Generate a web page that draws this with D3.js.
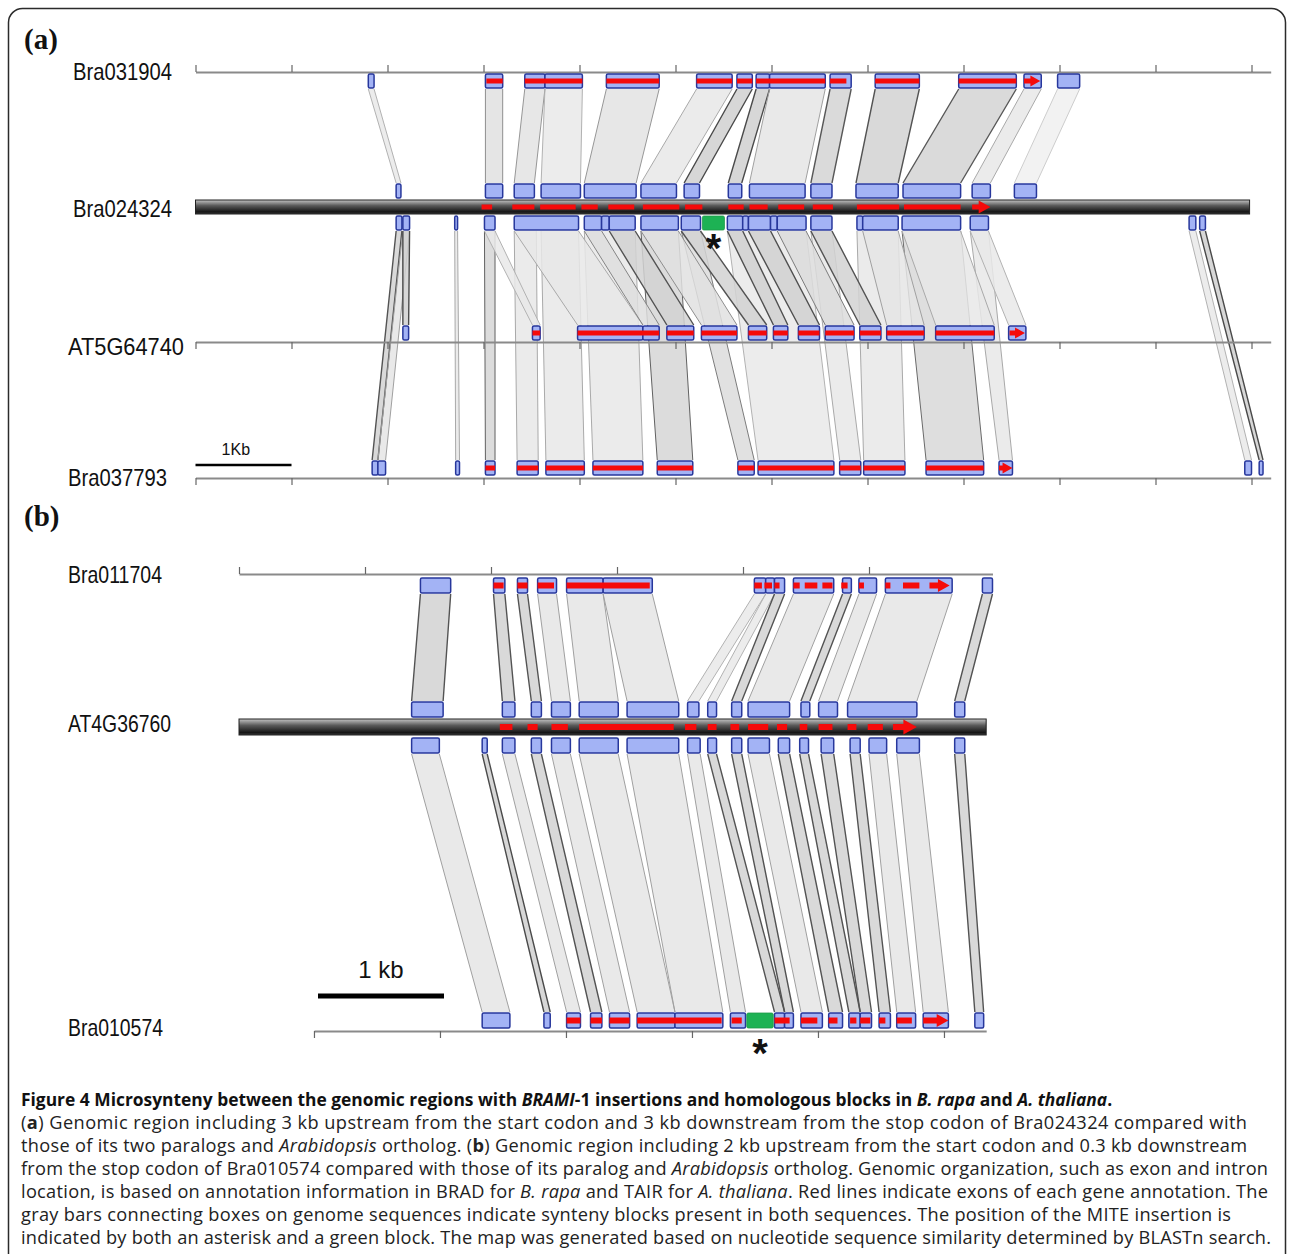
<!DOCTYPE html>
<html>
<head>
<meta charset="utf-8">
<script src="https://cdn.jsdelivr.net/npm/d3@7"></script>
<style>
  body { margin: 0; background: #fff; }
  svg { display: block; }
</style>
</head>
<body>
<svg id="chart"></svg>
<script>
// ---------- panel (a) data, positions in kb ----------
const tracksA = ['Bra031904', 'Bra024324', 'AT5G64740', 'Bra037793'];
const axisA = [0, 11.2];
const rodA = [0, 10.98];

const blocksBra031904 = [[1.80,1.86],[3.02,3.20],[3.43,3.64],[3.64,4.03],[4.28,4.83],[5.22,5.59],[5.64,5.80],
  [5.84,5.98],[5.98,6.56],[6.61,6.83],[7.08,7.54],[7.95,8.55],[8.63,8.81],[8.98,9.21]];
const exonsBra031904 = [[3.03,3.20],[3.43,4.03],[4.28,4.83],[5.22,5.59],[5.64,5.80],[5.84,6.56],[6.61,6.78],
  [7.08,7.54],[7.95,8.55],[8.63,8.80]];

const blocksTopBra024324 = [[2.09,2.14],[3.02,3.20],[3.32,3.53],[3.60,4.01],[4.05,4.59],[4.64,5.01],[5.09,5.25],
  [5.55,5.69],[5.77,6.35],[6.41,6.63],[6.88,7.32],[7.37,7.97],[8.09,8.28],[8.53,8.76]];
const blocksBotBra024324 = [[2.09,2.15],[2.16,2.23],[2.70,2.73],[3.01,3.12],[3.32,3.99],[4.05,4.23],[4.23,4.31],
  [4.31,4.58],[4.64,5.03],[5.06,5.26],[5.54,5.70],[5.70,5.76],[5.76,5.99],[5.99,6.06],[6.06,6.36],[6.41,6.63],
  [6.89,6.95],[6.95,7.32],[7.36,7.97],[8.07,8.26],[10.35,10.42],[10.46,10.52]];
const exonsBra024324 = [[2.98,3.09],[3.30,3.53],[3.59,3.96],[4.02,4.19],[4.30,4.57],[4.66,5.04],[5.10,5.28],
  [5.55,5.71],[5.77,5.96],[6.07,6.34],[6.43,6.64],[6.89,7.33],[7.38,7.97],[8.09,8.28]];
const miteBra024324 = [5.28, 5.51];

const blocksAT5G64740 = [[2.16,2.22],[3.51,3.59],[3.98,4.66],[4.66,4.83],[4.91,5.19],[5.27,5.64],[5.76,5.95],
  [6.02,6.17],[6.28,6.50],[6.56,6.86],[6.92,7.14],[7.20,7.59],[7.71,8.32],[8.47,8.65]];
const exonsAT5G64740 = [[3.51,3.59],[3.98,4.83],[4.91,5.19],[5.27,5.64],[5.76,5.95],[6.02,6.17],[6.28,6.50],
  [6.56,6.86],[6.92,7.14],[7.20,7.59],[7.71,8.32],[8.48,8.64]];

const blocksBra037793 = [[1.84,1.90],[1.90,1.98],[2.71,2.75],[3.02,3.12],[3.35,3.57],[3.65,4.05],[4.14,4.66],
  [4.81,5.18],[5.65,5.82],[5.86,6.65],[6.71,6.93],[6.96,7.39],[7.61,8.21],[8.37,8.51],[10.93,11.00],[11.08,11.12]];
const exonsBra037793 = [[3.02,3.12],[3.35,3.57],[3.65,4.05],[4.14,4.66],[4.81,5.18],[5.65,5.82],[5.86,6.65],
  [6.71,6.93],[6.96,7.39],[7.61,8.21],[8.37,8.51]];

// synteny links: [fromStart, fromEnd, toStart, toEnd, identity]
const linksA01 = [[1.80,1.86,2.09,2.14,0.72],[3.02,3.20,3.02,3.20,0.80],[3.43,3.64,3.32,3.53,0.78],
  [3.64,4.03,3.60,4.01,0.72],[4.28,4.83,4.05,4.59,0.78],[5.22,5.59,4.64,5.01,0.74],[5.64,5.80,5.09,5.25,0.95],
  [5.84,5.98,5.55,5.69,0.95],[5.98,6.56,5.77,6.35,0.76],[6.61,6.83,6.41,6.63,0.92],[7.08,7.54,6.88,7.32,0.93],
  [7.95,8.55,7.37,7.97,0.92],[8.63,8.81,8.09,8.28,0.74],[8.98,9.21,8.53,8.76,0.66]];
const linksA12 = [[2.16,2.23,2.16,2.22,0.95],[3.01,3.12,3.51,3.59,0.72],[3.32,3.99,3.98,4.66,0.74],
  [4.05,4.23,4.66,4.83,0.82],[4.31,4.58,4.91,5.19,0.93],[4.64,5.03,5.27,5.64,0.80],[5.06,5.26,5.76,5.95,0.93],
  [5.54,5.70,6.02,6.17,0.94],[5.76,5.99,6.28,6.50,0.94],[6.06,6.36,6.56,6.86,0.84],[6.41,6.63,6.92,7.14,0.93],
  [6.95,7.32,7.20,7.59,0.76],[7.36,7.97,7.71,8.32,0.74],[8.07,8.26,8.47,8.65,0.72]];
const linksA13 = [[2.09,2.15,1.84,1.90,0.93],[2.16,2.23,1.90,1.98,0.76],[2.70,2.73,2.71,2.75,0.74],
  [3.01,3.12,3.02,3.12,0.90],[3.32,3.55,3.35,3.57,0.74],[3.60,3.99,3.65,4.05,0.74],[4.05,4.58,4.14,4.66,0.74],
  [4.64,5.03,4.81,5.18,0.90],[5.06,5.26,5.65,5.82,0.84],[5.54,6.36,5.86,6.65,0.72],[6.41,6.63,6.71,6.93,0.74],
  [6.89,7.32,6.96,7.39,0.74],[7.36,7.97,7.61,8.21,0.88],[8.07,8.26,8.37,8.51,0.74],[10.35,10.42,10.93,11.00,0.72],
  [10.46,10.52,11.08,11.12,0.96]];

// ---------- panel (b) data, positions in kb ----------
const tracksB = ['Bra011704', 'AT4G36760', 'Bra010574'];
const axisBra011704 = [0, 5.98];
const axisBra010574 = [0.595, 5.93];
const rodB = [0, 5.93];

const blocksBra011704 = [[1.44,1.68],[2.02,2.11],[2.21,2.29],[2.37,2.52],[2.60,2.89],[2.89,3.28],[4.09,4.18],
  [4.18,4.25],[4.25,4.33],[4.40,4.72],[4.79,4.86],[4.92,5.06],[5.13,5.66],[5.90,5.98]];
const exonsBra011704 = [[2.02,2.10],[2.21,2.29],[2.37,2.50],[2.60,3.26],[4.09,4.15],[4.17,4.23],[4.25,4.29],
  [4.40,4.45],[4.49,4.59],[4.63,4.71],[4.78,4.83],[4.92,4.96],[5.13,5.17],[5.27,5.40],[5.48,5.64]];

const blocksTopAT4G36760 = [[1.37,1.62],[2.09,2.19],[2.32,2.40],[2.48,2.63],[2.70,3.01],[3.08,3.49],[3.56,3.65],
  [3.72,3.79],[3.91,3.99],[4.04,4.37],[4.46,4.53],[4.60,4.75],[4.83,5.38],[5.68,5.76]];
const blocksBotAT4G36760 = [[1.37,1.59],[1.93,1.97],[2.09,2.19],[2.32,2.40],[2.48,2.63],[2.70,3.01],[3.08,3.49],
  [3.56,3.66],[3.72,3.79],[3.91,3.99],[4.04,4.21],[4.28,4.37],[4.45,4.52],[4.62,4.72],[4.85,4.93],[5.00,5.14],
  [5.22,5.40],[5.68,5.76]];
const exonsAT4G36760 = [[2.07,2.17],[2.29,2.37],[2.48,2.61],[2.70,3.45],[3.54,3.63],[3.72,3.79],[3.90,3.97],
  [4.04,4.20],[4.27,4.35],[4.45,4.51],[4.60,4.71],[4.83,4.90],[4.99,5.11],[5.19,5.38]];

const blocksBra010574 = [[1.93,2.15],[2.42,2.47],[2.60,2.71],[2.79,2.88],[2.94,3.10],[3.16,3.46],[3.46,3.84],
  [3.90,4.02],[4.25,4.33],[4.33,4.40],[4.46,4.63],[4.68,4.79],[4.84,4.93],[4.93,5.02],[5.08,5.17],[5.22,5.37],
  [5.43,5.63],[5.84,5.91]];
const exonsBra010574 = [[2.60,2.71],[2.79,2.88],[2.94,3.10],[3.16,3.83],[3.91,3.99],[4.25,4.37],[4.46,4.59],
  [4.68,4.75],[4.85,4.90],[4.93,5.01],[5.08,5.13],[5.22,5.34],[5.43,5.63]];
const miteBra010574 = [4.03, 4.24];

const linksB01 = [[1.44,1.68,1.37,1.62,0.93],[2.02,2.11,2.09,2.19,0.93],[2.21,2.29,2.32,2.40,0.93],
  [2.37,2.52,2.48,2.63,0.76],[2.60,2.89,2.70,3.01,0.76],[2.89,3.28,3.08,3.49,0.76],[4.09,4.18,3.56,3.65,0.72],
  [4.18,4.25,3.72,3.79,0.72],[4.25,4.33,3.91,3.99,0.93],[4.40,4.72,4.04,4.37,0.76],[4.79,4.86,4.46,4.53,0.93],
  [4.92,5.06,4.60,4.75,0.76],[5.13,5.66,4.83,5.38,0.76],[5.90,5.98,5.68,5.76,0.93]];
const linksB12 = [[1.37,1.59,1.93,2.15,0.76],[1.93,1.97,2.42,2.47,0.95],[2.09,2.19,2.60,2.71,0.76],
  [2.32,2.40,2.79,2.88,0.93],[2.48,2.63,2.94,3.10,0.76],[2.70,3.01,3.16,3.46,0.76],[3.08,3.49,3.46,3.84,0.76],
  [3.56,3.66,3.90,4.02,0.76],[3.72,3.79,4.25,4.33,0.93],[3.91,3.99,4.33,4.40,0.93],[4.04,4.21,4.46,4.63,0.76],
  [4.28,4.37,4.68,4.79,0.93],[4.45,4.52,4.84,4.93,0.93],[4.62,4.72,4.93,5.02,0.93],[4.85,4.93,5.08,5.17,0.93],
  [5.00,5.14,5.22,5.37,0.76],[5.22,5.40,5.43,5.63,0.76],[5.68,5.76,5.84,5.91,0.93]];

// ---------- drawing ----------
const width = 1290, height = 1254;
const svg = d3.select('#chart').attr('width', width).attr('height', height);

const defs = svg.append('defs');
const grad = defs.append('linearGradient').attr('id', 'rod')
  .attr('x1', 0).attr('y1', 0).attr('x2', 0).attr('y2', 1);
grad.append('stop').attr('offset', '0%').attr('stop-color', '#c4c4c4');
grad.append('stop').attr('offset', '40%').attr('stop-color', '#5a5a5a');
grad.append('stop').attr('offset', '85%').attr('stop-color', '#151515');
grad.append('stop').attr('offset', '100%').attr('stop-color', '#3a3a3a');

// rounded frame
svg.append('rect').attr('x', 8.5).attr('y', 8.5).attr('width', 1277).attr('height', 1300)
  .attr('rx', 14).attr('fill', 'none').attr('stroke', '#2b2b2b').attr('stroke-width', 1.5);

const linkFill = d3.scaleLinear().domain([0.65, 0.95]).range(['#f1f1f1', '#d0d0d0']).clamp(true);
const linkEdge = d3.scaleLinear().domain([0.65, 0.95]).range(['#d2d2d2', '#4a4a4a']).clamp(true);

function drawLinks(g, x, links, yTop, yBot) {
  g.append('g').selectAll('path').data(links).join('path')
    .attr('d', d => `M${x(d[0])},${yTop}L${x(d[1])},${yTop}L${x(d[3])},${yBot}L${x(d[2])},${yBot}Z`)
    .attr('fill', d => linkFill(d[4]))
    .attr('fill-opacity', 0.85);
  g.append('g').selectAll('path').data(links).join('path')
    .attr('d', d => `M${x(d[0])},${yTop}L${x(d[2])},${yBot}M${x(d[1])},${yTop}L${x(d[3])},${yBot}`)
    .attr('fill', 'none')
    .attr('stroke', d => linkEdge(d[4]))
    .attr('stroke-width', d => d[4] > 0.9 ? 1.4 : 1);
}

function drawAxis(g, x, range, y, up) {
  const sub = x.copy().domain(range).range([x(range[0]), x(range[1])]);
  const ticks = d3.range(range[0], range[1] + 1e-6, 1);
  const axis = (up ? d3.axisTop(sub) : d3.axisBottom(sub))
    .tickValues(ticks).tickSize(7).tickSizeOuter(0).tickFormat('');
  const a = g.append('g').attr('transform', `translate(0,${y})`).call(axis);
  a.select('.domain').attr('stroke', '#8a8a8a').attr('stroke-width', 2);
  a.selectAll('.tick line').attr('stroke', '#666').attr('stroke-width', 1.2);
}

function drawRod(g, x, range, y, h) {
  g.append('rect').attr('x', x(range[0])).attr('y', y)
    .attr('width', x(range[1]) - x(range[0])).attr('height', h)
    .attr('fill', 'url(#rod)').attr('stroke', '#222').attr('stroke-width', 1);
}

function drawBlocks(g, x, blocks, y, h, fill) {
  g.append('g').selectAll('rect').data(blocks).join('rect')
    .attr('x', d => x(d[0])).attr('y', y)
    .attr('width', d => Math.max(2, x(d[1]) - x(d[0]))).attr('height', h)
    .attr('rx', 1.5)
    .attr('fill', fill || '#a3b3f5')
    .attr('stroke', fill ? '#1f9a4a' : '#27379c')
    .attr('stroke-width', fill ? 0.8 : 1.5);
}

// exons as red bars; the last exon ends with an arrow head
function drawExons(g, x, exons, yMid, th, head) {
  const last = exons.length - 1;
  g.append('g').selectAll('path').data(exons).join('path')
    .attr('d', (d, i) => {
      const x0 = x(d[0]), x1 = x(d[1]);
      if (i < last) return `M${x0},${yMid - th / 2}H${x1}V${yMid + th / 2}H${x0}Z`;
      const xb = Math.max(x0, x1 - head * 0.9);
      return `M${x0},${yMid - th / 2}H${xb}V${yMid - head / 2}L${x1},${yMid}L${xb},${yMid + head / 2}` +
        `V${yMid + th / 2}H${x0}Z`;
    })
    .attr('fill', '#f50a0a');
}

function trackLabel(text, x0, x1, yMid) {
  svg.append('text').attr('x', x0).attr('y', yMid + 8.5)
    .attr('textLength', x1 - x0).attr('lengthAdjust', 'spacingAndGlyphs')
    .attr('font-family', "'Liberation Sans Narrow', 'Liberation Sans', Arial, sans-serif")
    .attr('font-size', 24).attr('fill', '#111').text(text);
}

function panelLabel(text, yBase) {
  svg.append('text').attr('x', 24).attr('y', yBase)
    .attr('font-family', "'Liberation Serif', 'Times New Roman', serif")
    .attr('font-weight', 'bold').attr('font-size', 29).attr('fill', '#111').text(text);
}

function asterisk(xc, yc) {
  svg.append('text').attr('x', xc).attr('y', yc + 23).attr('text-anchor', 'middle')
    .attr('font-family', "'Liberation Sans', Arial, sans-serif")
    .attr('font-weight', 'bold').attr('font-size', 40).attr('fill', '#111').text('*');
}

// ---------- panel (a) ----------
const xA = d3.scaleLinear().domain([0, 11]).range([195.5, 1251.5]);
const gA = svg.append('g');
const yA = { t0: 72, t1Rod: 200, t2: 342, t3: 478 };

drawLinks(gA, xA, linksA13, 231, 460);
drawLinks(gA, xA, linksA12, 231, 325);
drawLinks(gA, xA, linksA01, 89, 183);

drawAxis(gA, xA, axisA, yA.t0, true);
drawAxis(gA, xA, axisA, yA.t2, false);
drawAxis(gA, xA, axisA, yA.t3, false);
drawRod(gA, xA, rodA, yA.t1Rod, 14);

drawBlocks(gA, xA, blocksBra031904, 74, 14);
drawExons(gA, xA, exonsBra031904, 81, 5, 11);
drawBlocks(gA, xA, blocksTopBra024324, 184, 14);
drawBlocks(gA, xA, blocksBotBra024324, 216, 14);
drawBlocks(gA, xA, [miteBra024324], 216, 14, '#1db254');
drawExons(gA, xA, exonsBra024324, 207, 5, 13);
drawBlocks(gA, xA, blocksAT5G64740, 326, 14);
drawExons(gA, xA, exonsAT5G64740, 333, 5, 11);
drawBlocks(gA, xA, blocksBra037793, 461, 14);
drawExons(gA, xA, exonsBra037793, 468, 5, 11);

panelLabel('(a)', 49);
trackLabel(tracksA[0], 73, 172, 71);
trackLabel(tracksA[1], 73, 172, 208);
trackLabel(tracksA[2], 68, 184, 346);
trackLabel(tracksA[3], 68, 167, 477);
asterisk(xA((miteBra024324[0] + miteBra024324[1]) / 2), 239);

// scale bar (a)
gA.append('line').attr('x1', xA(0)).attr('x2', xA(1)).attr('y1', 465).attr('y2', 465)
  .attr('stroke', '#000').attr('stroke-width', 2.5);
svg.append('text').attr('x', xA(0.42)).attr('y', 455).attr('text-anchor', 'middle')
  .attr('font-family', "'Liberation Sans Narrow', 'Liberation Sans', Arial, sans-serif")
  .attr('font-size', 16).attr('fill', '#111').text('1Kb');

// ---------- panel (b) ----------
const xB = d3.scaleLinear().domain([0, 6]).range([239, 995]);
const gB = svg.append('g');

drawLinks(gB, xB, linksB01, 594, 701);
drawLinks(gB, xB, linksB12, 754, 1012);

drawAxis(gB, xB, axisBra011704, 574, true);
drawAxis(gB, xB, axisBra010574, 1031, false);
drawRod(gB, xB, rodB, 719, 16);

drawBlocks(gB, xB, blocksBra011704, 578, 15);
drawExons(gB, xB, exonsBra011704, 585.5, 6, 13);
drawBlocks(gB, xB, blocksTopAT4G36760, 702, 15);
drawBlocks(gB, xB, blocksBotAT4G36760, 738, 15);
drawExons(gB, xB, exonsAT4G36760, 727, 6, 15);
drawBlocks(gB, xB, blocksBra010574, 1013, 15);
drawBlocks(gB, xB, [miteBra010574], 1013, 15, '#1db254');
drawExons(gB, xB, exonsBra010574, 1020.5, 6, 13);

panelLabel('(b)', 526);
trackLabel(tracksB[0], 68, 162, 574);
trackLabel(tracksB[1], 68, 171, 723);
trackLabel(tracksB[2], 68, 163, 1027);
asterisk(xB((miteBra010574[0] + miteBra010574[1]) / 2), 1044);

// scale bar (b)
gB.append('line').attr('x1', 318).attr('x2', 318 + (xB(1) - xB(0))).attr('y1', 996).attr('y2', 996)
  .attr('stroke', '#000').attr('stroke-width', 5);
svg.append('text').attr('x', 318 + (xB(1) - xB(0)) / 2).attr('y', 978).attr('text-anchor', 'middle')
  .attr('font-family', "'Liberation Sans', Arial, sans-serif")
  .attr('font-size', 24).attr('fill', '#111').text('1 kb');

// ---------- caption ----------
const captionLines = [
  { y: 1106, w: null, size: 17.4, segs: [['Figure 4 Microsynteny between the genomic regions with ', 'b'], ['BRAMI', 'bi'],
    ['-1 insertions and homologous blocks in ', 'b'], ['B. rapa', 'bi'], [' and ', 'b'], ['A. thaliana', 'bi'], ['.', 'b']] },
  { y: 1129, w: 1226, segs: [['(', 'n'], ['a', 'b'],
    [') Genomic region including 3 kb upstream from the start codon and 3 kb downstream from the stop codon of Bra024324 compared with', 'n']] },
  { y: 1152, w: 1226, segs: [['those of its two paralogs and ', 'n'], ['Arabidopsis', 'i'], [' ortholog. (', 'n'], ['b', 'b'],
    [') Genomic region including 2 kb upstream from the start codon and 0.3 kb downstream', 'n']] },
  { y: 1175, w: 1247, segs: [['from the stop codon of Bra010574 compared with those of its paralog and ', 'n'], ['Arabidopsis', 'i'],
    [' ortholog. Genomic organization, such as exon and intron', 'n']] },
  { y: 1198, w: 1247, segs: [['location, is based on annotation information in BRAD for ', 'n'], ['B. rapa', 'i'],
    [' and TAIR for ', 'n'], ['A. thaliana', 'i'], ['. Red lines indicate exons of each gene annotation. The', 'n']] },
  { y: 1221, w: 1210, segs: [['gray bars connecting boxes on genome sequences indicate synteny blocks present in both sequences. The position of the MITE insertion is', 'n']] },
  { y: 1244, w: 1250, segs: [['indicated by both an asterisk and a green block. The map was generated based on nucleotide sequence similarity determined by BLASTn search.', 'n']] }
];

const cap = svg.append('g')
  .attr('font-family', "'Open Sans', 'Noto Sans', sans-serif")
  .attr('font-size', 18.2).attr('fill', '#222');
captionLines.forEach(line => {
  const t = cap.append('text').attr('x', 21).attr('y', line.y);
  if (line.w) t.attr('textLength', line.w).attr('lengthAdjust', 'spacing');
  if (line.size) t.attr('font-size', line.size).attr('fill', '#111');
  line.segs.forEach(s => {
    t.append('tspan').text(s[0])
      .attr('font-weight', s[1].includes('b') ? 'bold' : null)
      .attr('font-style', s[1].includes('i') ? 'italic' : null);
  });
});
</script>
</body>
</html>
